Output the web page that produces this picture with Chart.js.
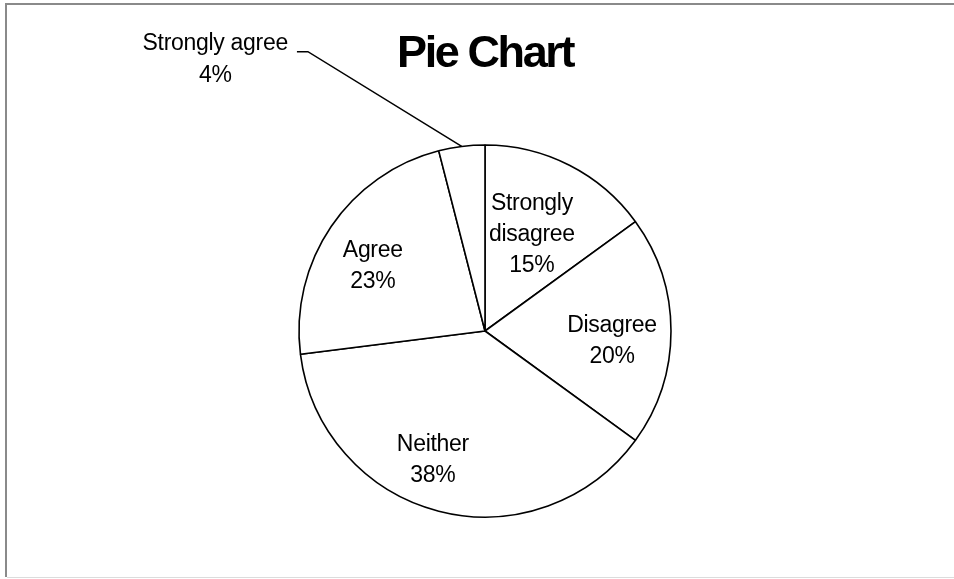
<!DOCTYPE html>
<html>
<head>
<meta charset="utf-8">
<script src="https://cdn.jsdelivr.net/npm/chart.js@4"></script>
<style>
html, body { margin: 0; padding: 0; background: #fff; }
canvas { display: block; }
</style>
</head>
<body>
<canvas id="c" width="954" height="579"></canvas>
<script>
// ---- data ----
const categories = ['Strongly disagree', 'Disagree', 'Neither', 'Agree', 'Strongly agree'];
const labelLines = [['Strongly', 'disagree'], ['Disagree'], ['Neither'], ['Agree'], ['Strongly agree']];
const values = [15, 20, 38, 23, 4];
const chartTitle = 'Pie Chart';

const FONT = "'Liberation Sans', Arial, sans-serif";

// label placement (polar, relative to slice mid-angle) — styling only
const labelPlacement = [
  { f: 0.575, da: -1 },
  { f: 0.685, da: 4.7 },
  { f: 0.748, da: 7.6 },
  { f: 0.696, da: -4.3 },
  { outside: true, ex: -0.952, ey: -1.502, tail: 11 }
];

const framePlugin = {
  id: 'frame',
  beforeDraw(chart) {
    const ctx = chart.ctx;
    ctx.save();
    ctx.fillStyle = '#ffffff';
    ctx.fillRect(0, 0, chart.width, chart.height);
    ctx.fillStyle = '#8a8a8a';
    ctx.fillRect(5, 3, chart.width - 5, 2);
    ctx.fillRect(5, 3, 2, chart.height - 5);
    ctx.fillStyle = '#dcdcdc';
    ctx.fillRect(7, 577, chart.width - 7, 1);
    ctx.restore();
    // tighter tracking for the title, which is drawn next
    ctx.letterSpacing = '-2.4px';
  },
  beforeDatasetsDraw(chart) {
    chart.ctx.letterSpacing = '0px';
  }
};

const labelPlugin = {
  id: 'sliceLabels',
  afterDatasetsDraw(chart) {
    const ctx = chart.ctx;
    const meta = chart.getDatasetMeta(0);
    const data = chart.data.datasets[0].data;
    const total = data.reduce((a, b) => a + b, 0);
    ctx.save();
    ctx.font = '23px ' + FONT;
    ctx.letterSpacing = '-0.3px';
    ctx.fillStyle = '#000';
    ctx.textAlign = 'center';
    ctx.textBaseline = 'middle';
    meta.data.forEach((arc, i) => {
      const p = arc.getProps(['x', 'y', 'startAngle', 'endAngle', 'outerRadius'], true);
      const mid = (p.startAngle + p.endAngle) / 2;
      const R = p.outerRadius;
      const lines = labelLines[i].concat([Math.round(data[i] / total * 100) + '%']);
      const pl = labelPlacement[i];
      if (!pl.outside) {
        const lineH = 31;
        const a = mid + pl.da * Math.PI / 180;
        const cx = p.x + Math.cos(a) * R * pl.f;
        const cy = p.y + Math.sin(a) * R * pl.f;
        const y0 = cy - (lines.length - 1) * lineH / 2;
        lines.forEach((t, k) => ctx.fillText(t, cx, y0 + k * lineH));
      } else {
        const lineH = 32;
        const sx = p.x + Math.cos(mid) * R;
        const sy = p.y + Math.sin(mid) * R;
        const exX = p.x + pl.ex * R;
        const exY = p.y + pl.ey * R;
        ctx.strokeStyle = '#000';
        ctx.lineWidth = 1.5;
        ctx.beginPath();
        ctx.moveTo(sx, sy);
        ctx.lineTo(exX, exY);
        ctx.lineTo(exX - pl.tail, exY);
        ctx.stroke();
        const w = Math.max(...lines.map(t => ctx.measureText(t).width));
        const cx = exX - pl.tail - 9 - w / 2;
        const y0 = exY - 8;
        lines.forEach((t, k) => ctx.fillText(t, cx, y0 + k * lineH));
      }
    });
    ctx.restore();
  }
};

new Chart(document.getElementById('c'), {
  type: 'pie',
  data: {
    labels: categories,
    datasets: [{
      data: values,
      backgroundColor: '#ffffff',
      borderColor: '#000000',
      borderWidth: 1.6,
      hoverOffset: 0
    }]
  },
  options: {
    responsive: false,
    devicePixelRatio: 1,
    animation: false,
    events: [],
    radius: 186,
    layout: { padding: { left: 16, right: 0, top: 0, bottom: 17 } },
    plugins: {
      legend: { display: false },
      tooltip: { enabled: false },
      title: {
        display: true,
        text: chartTitle,
        color: '#000',
        font: { family: FONT, size: 45, weight: 'bold', lineHeight: 1.2 },
        padding: { top: 28, bottom: 18 }
      }
    }
  },
  plugins: [framePlugin, labelPlugin]
});
</script>
</body>
</html>
